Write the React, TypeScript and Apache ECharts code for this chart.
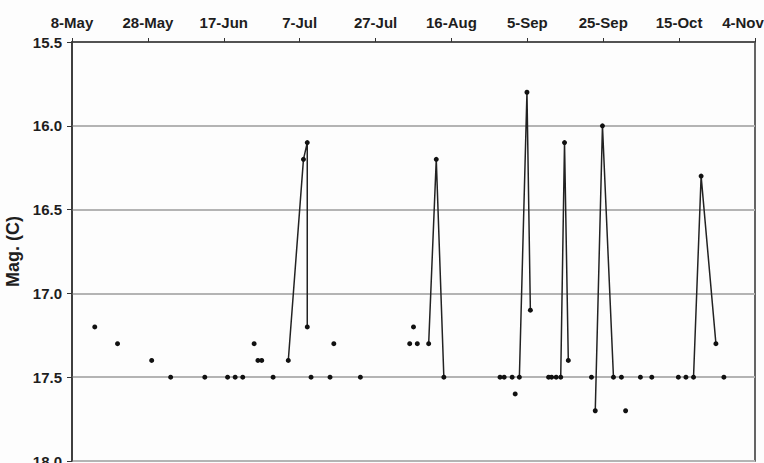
import React, { useEffect, useRef } from "react";
import * as echarts from "echarts";

// x = days since 8-May
const tickLabels = ["8-May", "28-May", "17-Jun", "7-Jul", "27-Jul", "16-Aug", "5-Sep", "25-Sep", "15-Oct", "4-Nov"];

const quiescent: [number, number][] = [
  [6, 17.2], [12, 17.3], [21, 17.4], [26, 17.5], [35, 17.5], [41, 17.5], [43, 17.5], [45, 17.5],
  [48, 17.3], [49, 17.4], [50, 17.4], [53, 17.5], [63, 17.5], [68, 17.5], [69, 17.3], [76, 17.5],
  [89, 17.3], [90, 17.2], [91, 17.3], [112.8, 17.5], [113.9, 17.5], [116, 17.5], [116.8, 17.6],
  [125.6, 17.5], [126.4, 17.5], [127.6, 17.5], [136.9, 17.5], [144.8, 17.5], [145.9, 17.7],
  [149.8, 17.5], [152.8, 17.5], [159.8, 17.5], [161.8, 17.5], [171.8, 17.5],
];

const outburst1: [number, number][] = [[57, 17.4], [61, 16.2], [62, 16.1], [62, 17.2]];
const outburst2: [number, number][] = [[94, 17.3], [96, 16.2], [98, 17.5]];
const outburst3: [number, number][] = [[117.9, 17.5], [119.9, 15.8], [120.8, 17.1]];
const outburst4: [number, number][] = [[128.8, 17.5], [129.8, 16.1], [130.8, 17.4]];
const outburst5: [number, number][] = [[137.9, 17.7], [139.8, 16.0], [142.7, 17.5]];
const outburst6: [number, number][] = [[163.8, 17.5], [165.8, 16.3], [169.7, 17.3]];

const outbursts = [outburst1, outburst2, outburst3, outburst4, outburst5, outburst6];

const FONT = "Liberation Sans, Arial, sans-serif";
const TXT = "#1e1e1e";

export default function App() {
  const ref = useRef<HTMLDivElement>(null);
  useEffect(() => {
    if (!ref.current) return;
    document.documentElement.style.overflow = "hidden";
    document.body.style.margin = "0";
    const chart = echarts.init(ref.current, undefined, { renderer: "svg" });
    const lineSeries = outbursts.map((d) => ({
      type: "line" as const,
      data: d,
      symbol: "circle",
      symbolSize: 5,
      showSymbol: true,
      lineStyle: { color: "#222", width: 1.5 },
      itemStyle: { color: "#111", opacity: 1 },
      z: 3,
    }));
    const labelStyle = { fontFamily: FONT, fontWeight: "bold" as const, fontSize: 15, color: TXT };
    chart.setOption({
      animation: false,
      backgroundColor: "#fdfdfd",
      grid: {
        left: 72,
        top: 42,
        right: 9,
        bottom: 2,
        outerBoundsMode: "none",
        containLabel: false,
        show: true,
        borderColor: "#333",
        borderWidth: 1.5,
        backgroundColor: "transparent",
      },
      xAxis: {
        type: "value",
        position: "top",
        min: 0,
        max: 180,
        interval: 20,
        axisLine: { show: true, lineStyle: { color: "#333", width: 1.5 } },
        axisTick: { show: true, inside: false, length: 4, lineStyle: { color: "#333", width: 1 } },
        splitLine: { show: false },
        axisLabel: {
          margin: 12,
          ...labelStyle,
          formatter: (v: number) => {
            const i = Math.round(v / 20);
            const t = tickLabels[i] ?? "";
            return i === tickLabels.length - 1 ? `{last|${t}}` : t;
          },
          rich: {
            last: { ...labelStyle, padding: [0, 24, 0, 0] },
          },
        },
      },
      yAxis: {
        type: "value",
        inverse: true,
        min: 15.5,
        max: 18.0,
        interval: 0.5,
        name: "Mag. (C)",
        nameLocation: "middle",
        nameRotate: 90,
        nameGap: 37,
        nameTextStyle: { fontFamily: FONT, fontWeight: "bold", fontSize: 18, color: TXT },
        axisLine: { show: true, lineStyle: { color: "#333", width: 1.5 } },
        axisTick: { show: true, inside: false, length: 5, lineStyle: { color: "#333", width: 1 } },
        splitLine: { show: true, lineStyle: { color: "#b4b4b4", width: 2 } },
        axisLabel: {
          margin: 10,
          ...labelStyle,
          formatter: (v: number) => v.toFixed(1),
        },
      },
      series: [
        {
          type: "scatter",
          data: quiescent,
          symbol: "circle",
          symbolSize: 5,
          itemStyle: { color: "#111", opacity: 1 },
          z: 4,
        },
        ...lineSeries,
      ],
    });
    return () => chart.dispose();
  }, []);
  return (
    <div
      ref={ref}
      style={{ position: "fixed", left: 0, top: 0, width: 764, height: 463 }}
    />
  );
}
